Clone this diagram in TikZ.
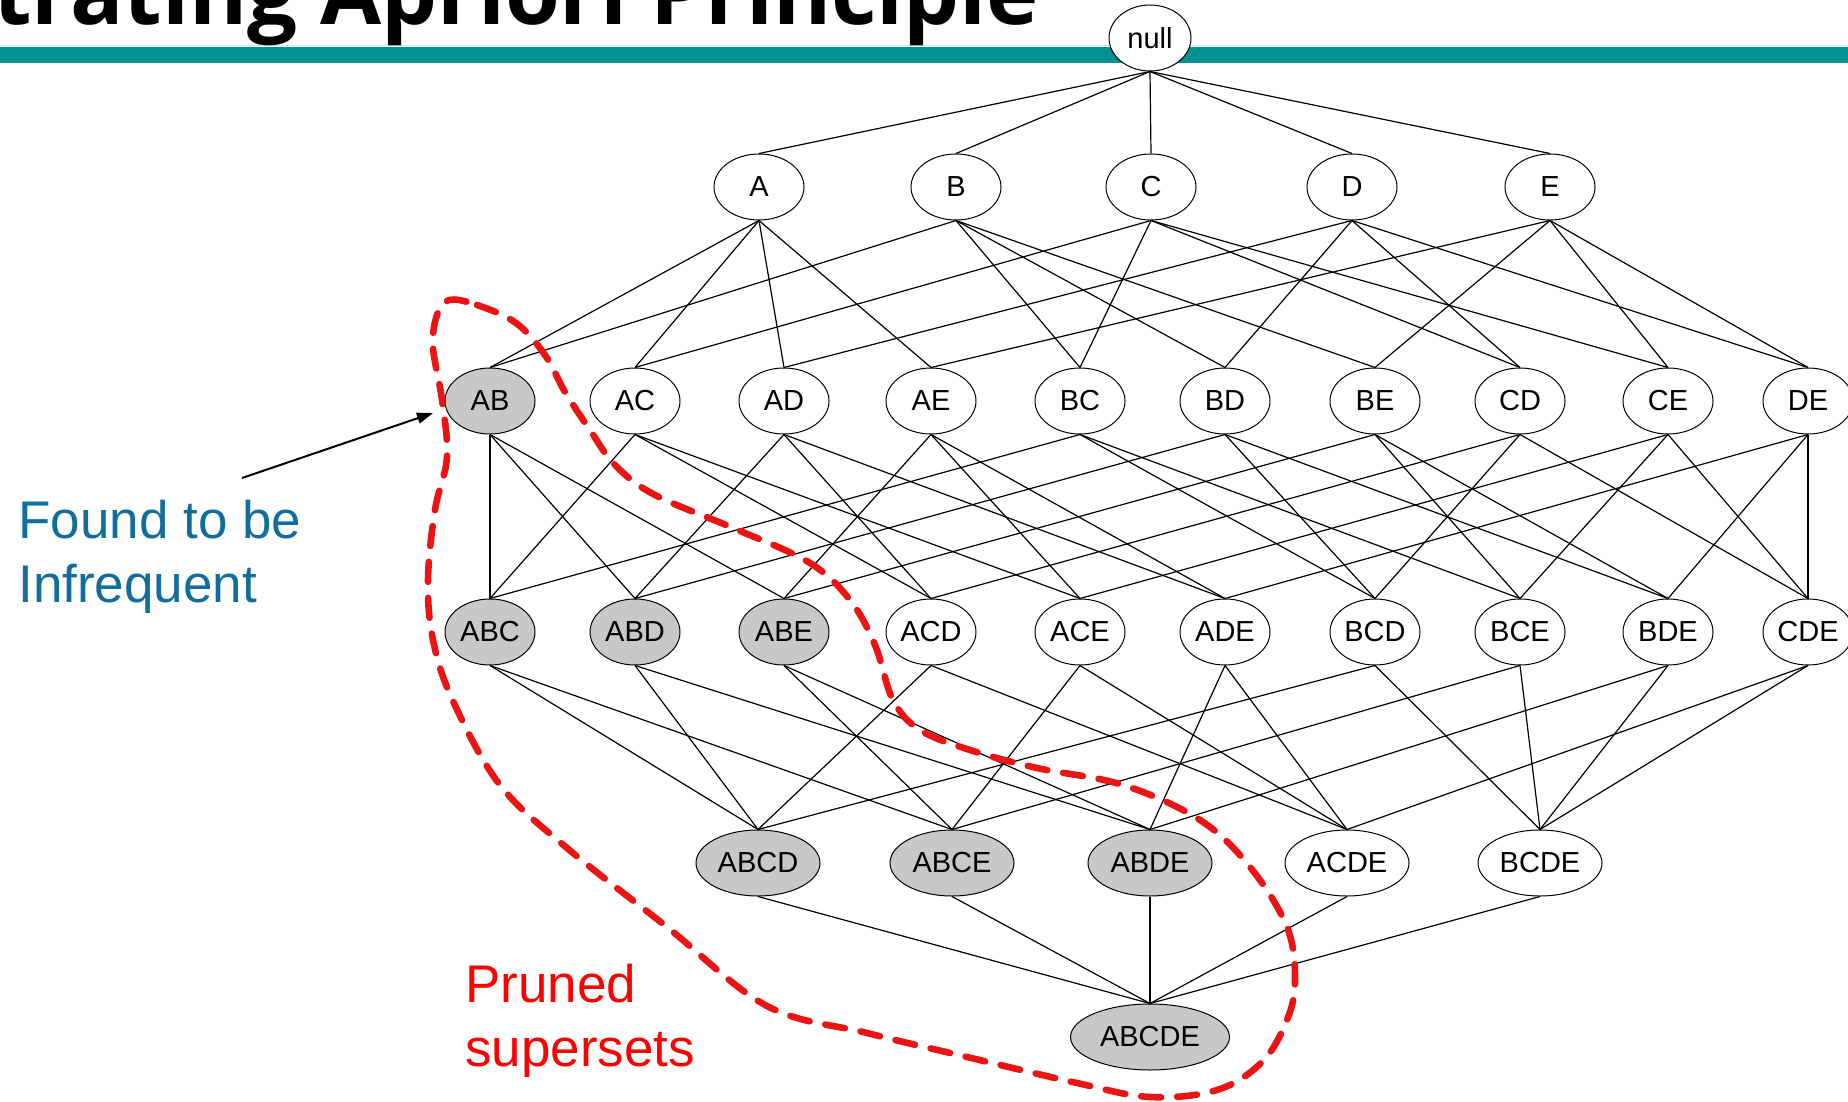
\documentclass[tikz,border=0pt]{standalone}
\usepackage{fontspec}
\setmainfont{Liberation Sans}
\newfontfamily\headfont{Open Sans}
\usetikzlibrary{shapes.geometric,arrows.meta,positioning}

\definecolor{barteal}{RGB}{0,146,146}
\definecolor{setgray}{RGB}{200,200,200}
\definecolor{noteblue}{RGB}{17,109,155}
\definecolor{prunered}{RGB}{235,20,20}

\tikzset{
  itemset/.style={ellipse,draw,line width=0.5pt,fill=white,inner sep=0pt,
    minimum width=45pt,minimum height=33pt,font=\fontsize{14.5}{17}\selectfont},
  pruned/.style={fill=setgray},
  plain/.style={},
  wide/.style={minimum width=62pt},
  link/.style={line width=0.6pt},
  note/.style={font=\fontsize{26.5}{32}\selectfont,align=left,inner sep=0pt,anchor=base west},
  prunerim/.style={draw=prunered,line width=3.3pt,line cap=round,dash pattern=on 10pt off 8pt}
}

\begin{document}
\begin{tikzpicture}[x=0.5pt,y=-0.5pt]
  \useasboundingbox (0,0) rectangle (1848,1102);
  \clip (0,0) rectangle (1848,1102);

  % slide header
  \draw[gray!25,line width=0.5pt] (0,45.5) -- (1848,45.5);
  \fill[barteal] (0,47) rectangle (1848,63);
  \node[anchor=base east,inner sep=0pt,font=\headfont\bfseries\fontsize{44.3}{53}\selectfont]
    (title) at (1040,25) {Illustrating Apriori Principle};

  % itemset lattice
  \node[itemset,minimum width=41pt] (null) at (1150,38) {null};
  \foreach \n/\x in {A/759,B/956,C/1151,D/1352,E/1550}
    \node[itemset] (\n) at (\x,187) {\n};
  \foreach \n/\x/\s in {AB/490/pruned,AC/635/plain,AD/784/plain,AE/931/plain,BC/1080/plain,
      BD/1225/plain,BE/1375/plain,CD/1520/plain,CE/1668/plain,DE/1808/plain}
    \node[itemset,\s] (\n) at (\x,401) {\n};
  \foreach \n/\x/\s in {ABC/490/pruned,ABD/635/pruned,ABE/784/pruned,ACD/931/plain,ACE/1080/plain,
      ADE/1225/plain,BCD/1375/plain,BCE/1520/plain,BDE/1668/plain,CDE/1808/plain}
    \node[itemset,\s] (\n) at (\x,632) {\n};
  \foreach \n/\x/\s in {ABCD/758/pruned,ABCE/952/pruned,ABDE/1150/pruned,ACDE/1347/plain,BCDE/1540/plain}
    \node[itemset,wide,\s] (\n) at (\x,863) {\n};
  \node[itemset,pruned,minimum width=79.5pt] (ABCDE) at (1150,1037) {ABCDE};

  \foreach \up/\downs in {null/{A,B,C,D,E},
      A/{AB,AC,AD,AE},B/{AB,BC,BD,BE},C/{AC,BC,CD,CE},D/{AD,BD,CD,DE},E/{AE,BE,CE,DE},
      AB/{ABC,ABD,ABE},AC/{ABC,ACD,ACE},AD/{ABD,ACD,ADE},AE/{ABE,ACE,ADE},
      BC/{ABC,BCD,BCE},BD/{ABD,BCD,BDE},BE/{ABE,BCE,BDE},
      CD/{ACD,BCD,CDE},CE/{ACE,BCE,CDE},DE/{ADE,BDE,CDE},
      ABC/{ABCD,ABCE},ABD/{ABCD,ABDE},ABE/{ABCE,ABDE},ACD/{ABCD,ACDE},ACE/{ABCE,ACDE},
      ADE/{ABDE,ACDE},BCD/{ABCD,BCDE},BCE/{ABCE,BCDE},BDE/{ABDE,BCDE},CDE/{ACDE,BCDE},
      ABCD/{ABCDE},ABCE/{ABCDE},ABDE/{ABCDE},ACDE/{ABCDE},BCDE/{ABCDE}}
    \foreach \dn in \downs
      \draw[link] (\up.south) -- (\dn.north);

  % pruned region
  \draw[prunerim] plot[smooth cycle,tension=0.6] coordinates {
    (449,300) (477,305) (516,323) (545,355) (565,392) (590,430) (615,465) (655,495)
    (738,530) (810,563) (850,600) (875,645) (893,700) (920,730) (970,750) (1037,768)
    (1123,785) (1200,820) (1250,867) (1287,927) (1295,980) (1287,1020) (1262,1062)
    (1217,1090) (1150,1097) (1077,1083) (967,1057) (867,1033) (767,1006) (667,927)
    (567,848) (500,785) (453,701) (433,640) (428,580) (435,510) (447,457) (442,400)
    (433,347) (437,315)};

  % notes
  \node[note,text=noteblue] (found) at (18,602) {Found to be\\Infrequent};
  \node[note,text=red] (prune) at (465,1066) {Pruned\\supersets};
  \coordinate (tail) at (242,478);
  \coordinate (tip) at (433,413);
  \draw[-{Triangle[length=8pt,width=5.5pt]},line width=1pt] (tail) -- (tip);
\end{tikzpicture}
\end{document}
